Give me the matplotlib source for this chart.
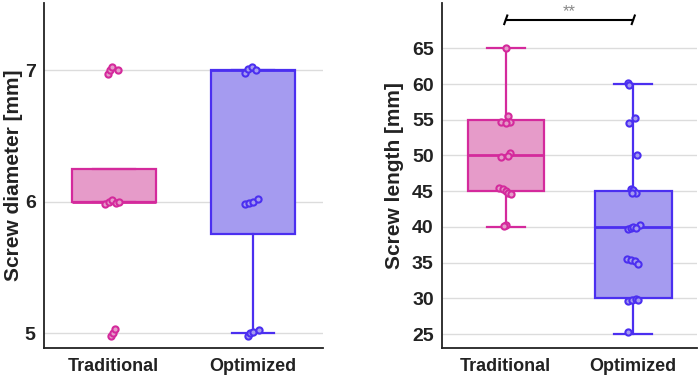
import matplotlib
matplotlib.use("Agg")
import matplotlib.pyplot as plt

plt.rcParams['font.family'] = ['Liberation Sans', 'DejaVu Sans']
plt.rcParams['font.weight'] = 'bold'

groups = ["Traditional", "Optimized"]
pink_edge = "#d42a9c"
pink_fill = "#e69bc9"
blue_edge = "#4b2ff0"
blue_fill = "#a59bf0"

# screw diameter: box stats (q1, median, q3, whisker low, whisker high)
dia_q1 = [6.0, 5.75]
dia_med = [6.0, 7.0]
dia_q3 = [6.25, 7.0]
dia_wlo = [6.0, 5.0]
dia_whi = [6.25, 7.0]

# screw diameter: individual points (value, x jitter)
dia_trad_y = [6.97, 7.0, 7.02, 7.0, 5.98, 6.0, 6.01, 5.99, 6.0, 4.98, 5.0, 5.03]
dia_trad_dx = [-0.04, -0.025, -0.01, 0.03, -0.06, -0.035, -0.015, 0.015, 0.04, -0.02, -0.005, 0.01]
dia_opt_y = [6.98, 7.01, 7.02, 7.0, 5.98, 5.99, 6.0, 6.02, 4.98, 5.0, 5.01, 5.02]
dia_opt_dx = [-0.06, -0.035, -0.01, 0.02, -0.06, -0.03, 0.0, 0.035, -0.04, -0.02, 0.0, 0.04]

# screw length
len_q1 = [45, 30]
len_med = [50, 40]
len_q3 = [55, 45]
len_wlo = [40, 25]
len_whi = [65, 60]

len_trad_y = [65.0, 54.7, 55.5, 54.7, 54.6, 49.8, 50.3, 49.9, 45.5, 45.3, 45.0, 44.8, 44.6, 40.3, 40.1]
len_trad_dx = [0.0, -0.04, 0.015, 0.03, 0.0, -0.04, 0.03, 0.015, -0.05, -0.02, 0.0, 0.02, 0.04, 0.0, -0.01]
len_opt_y = [60.1, 59.8, 54.6, 55.2, 50.1, 45.3, 45.1, 44.8, 44.7, 39.7, 39.8, 40.0, 40.3, 39.9,
             35.5, 35.4, 35.2, 34.8, 29.6, 29.7, 29.9, 29.8, 25.3]
len_opt_dx = [-0.04, -0.03, -0.03, 0.01, 0.03, -0.02, 0.0, 0.02, -0.01, -0.04, -0.02, 0.0, 0.05, 0.02,
              -0.05, -0.02, 0.01, 0.04, -0.04, -0.01, 0.02, 0.04, -0.04]


def box_panel(ax, q1, med, q3, wlo, whi, pts, ticks, ylim, ylabel, labelpad):
    edges = [pink_edge, blue_edge]
    fills = [pink_fill, blue_fill]
    for i in range(2):
        stats = {"q1": q1[i], "med": med[i], "q3": q3[i],
                 "whislo": wlo[i], "whishi": whi[i], "fliers": []}
        ax.bxp([stats], positions=[i + 1], widths=0.6, patch_artist=True, showfliers=False,
               boxprops=dict(facecolor=fills[i], edgecolor=edges[i], linewidth=1.6),
               medianprops=dict(color=edges[i], linewidth=2),
               whiskerprops=dict(color=edges[i], linewidth=1.6),
               capprops=dict(color=edges[i], linewidth=1.6),
               capwidths=0.3, zorder=2)
        ys, dxs = pts[i]
        ax.scatter([i + 1 + d for d in dxs], ys, s=20, facecolor=fills[i],
                   edgecolor=edges[i], linewidth=1.5, zorder=3)
    ax.set_xlim(0.5, 2.5)
    ax.set_ylim(*ylim)
    ax.set_yticks(ticks)
    ax.set_xticks([1, 2])
    ax.set_xticklabels(groups, fontsize=13, fontweight='bold')
    ax.tick_params(axis='y', labelsize=14, length=0, pad=6, labelcolor="#222222")
    ax.tick_params(axis='x', length=0, pad=7, labelcolor="#222222")
    ax.yaxis.grid(True, color="#dcdcdc", linewidth=1)
    ax.set_axisbelow(True)
    for s in ["top", "right"]:
        ax.spines[s].set_visible(False)
    for s in ["left", "bottom"]:
        ax.spines[s].set_linewidth(1.3)
        ax.spines[s].set_color("#222222")
    ax.set_ylabel(ylabel, fontsize=15, fontweight='bold', color="#222222", labelpad=labelpad)


fig = plt.figure(figsize=(6.99, 3.78), dpi=100)
ax1 = fig.add_axes([44 / 699, 30 / 378, 279 / 699, 345 / 378])
ax2 = fig.add_axes([442 / 699, 30 / 378, 255 / 699, 345 / 378])

box_panel(ax1, dia_q1, dia_med, dia_q3, dia_wlo, dia_whi,
          [(dia_trad_y, dia_trad_dx), (dia_opt_y, dia_opt_dx)],
          [5, 6, 7], (4.886, 7.51), "Screw diameter [mm]", 1)
box_panel(ax2, len_q1, len_med, len_q3, len_wlo, len_whi,
          [(len_trad_y, len_trad_dx), (len_opt_y, len_opt_dx)],
          [25, 30, 35, 40, 45, 50, 55, 60, 65], (23.04, 71.35), "Screw length [mm]", 6)

# significance bracket
ax2.plot([1, 2], [69, 69], color="black", linewidth=1.5, clip_on=False)
for x in [1, 2]:
    ax2.plot([x - 0.012, x + 0.012], [68.4, 69.6], color="black", linewidth=1.5, clip_on=False)
ax2.text(1.5, 70.1, "**", ha="center", va="center", fontsize=12, color="#888888", fontweight='normal')

fig.savefig("out.png", dpi=100)
